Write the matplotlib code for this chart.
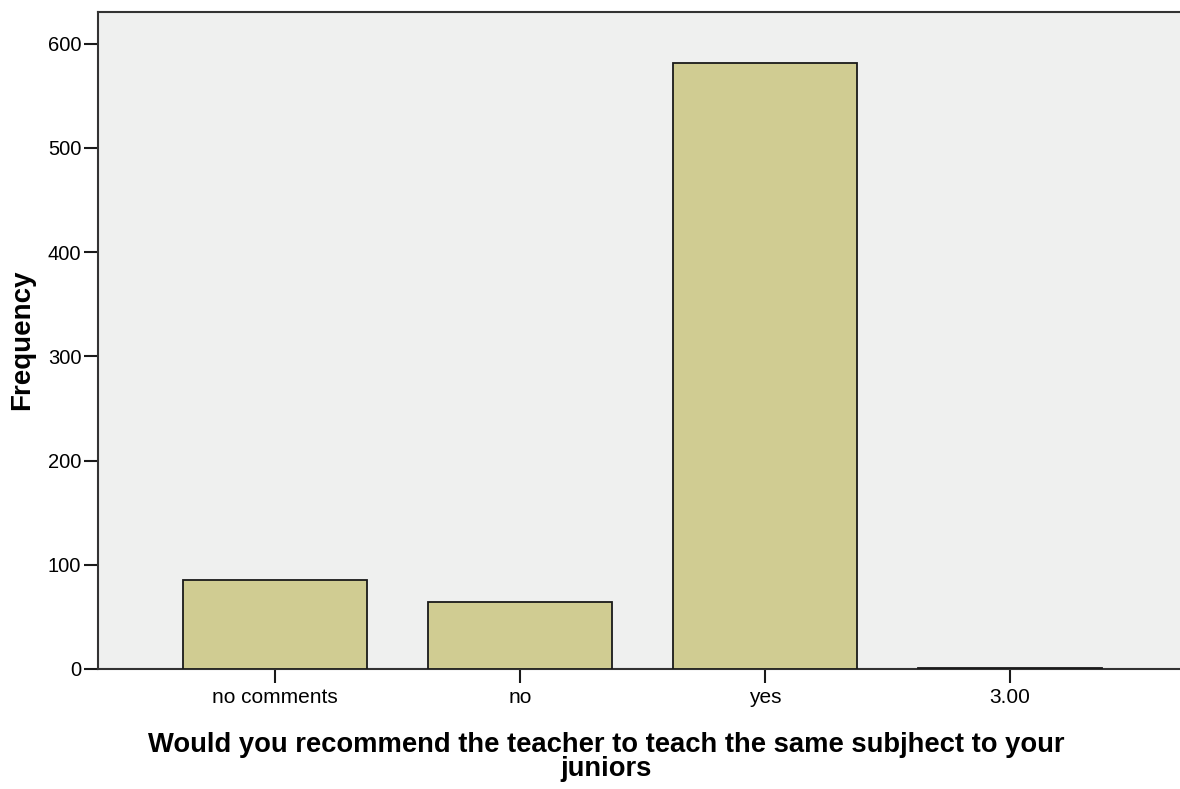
import matplotlib.pyplot as plt
import numpy as np

categories = ["no comments", "no", "yes", "3.00"]
counts = [85, 64, 582, 1]
y_ticks = [0, 100, 200, 300, 400, 500, 600]

plt.rcParams["font.family"] = ["Liberation Sans", "DejaVu Sans"]

fig = plt.figure(figsize=(11.8, 7.89), dpi=100)
# axes box in figure pixels: left 98, top 12, bottom 669, right past the edge
W, H = 1180, 789
ax = fig.add_axes([98 / W, (H - 669) / H, (1187 - 98) / W, (669 - 12) / H])
ax.set_facecolor("#eff0ef")

x = np.arange(len(categories))
ax.bar(x, counts, width=0.75, color="#d0cc92", edgecolor="#1a1a1a", linewidth=1.3, zorder=3)

ax.set_xlim(-0.722, 3.722)
ax.set_ylim(0, 630.5)
ax.set_xticks(x)
ax.set_xticklabels(categories, fontsize=15)
ax.set_yticks(y_ticks)
ax.set_yticklabels([str(v) for v in y_ticks], fontsize=14.5)
ax.tick_params(axis="x", length=10, width=1.5, color="#1a1a1a", pad=4)
ax.tick_params(axis="y", length=10, width=1.5, color="#1a1a1a", pad=2)

for side in ["left", "bottom", "top"]:
    ax.spines[side].set_linewidth(1.5)
    ax.spines[side].set_color("#333333")
ax.spines["right"].set_visible(False)

fig.text(22 / W, 1 - 340 / H, "Frequency", rotation=90, ha="center", va="center",
         fontsize=20, fontweight="bold")
fig.text(606 / W, 1 - 745 / H,
         "Would you recommend the teacher to teach the same subjhect to your",
         ha="center", va="center", fontsize=19.7, fontweight="bold")
fig.text(606 / W, 1 - 769 / H, "juniors",
         ha="center", va="center", fontsize=19.7, fontweight="bold")

fig.savefig("out.png", dpi=100)
